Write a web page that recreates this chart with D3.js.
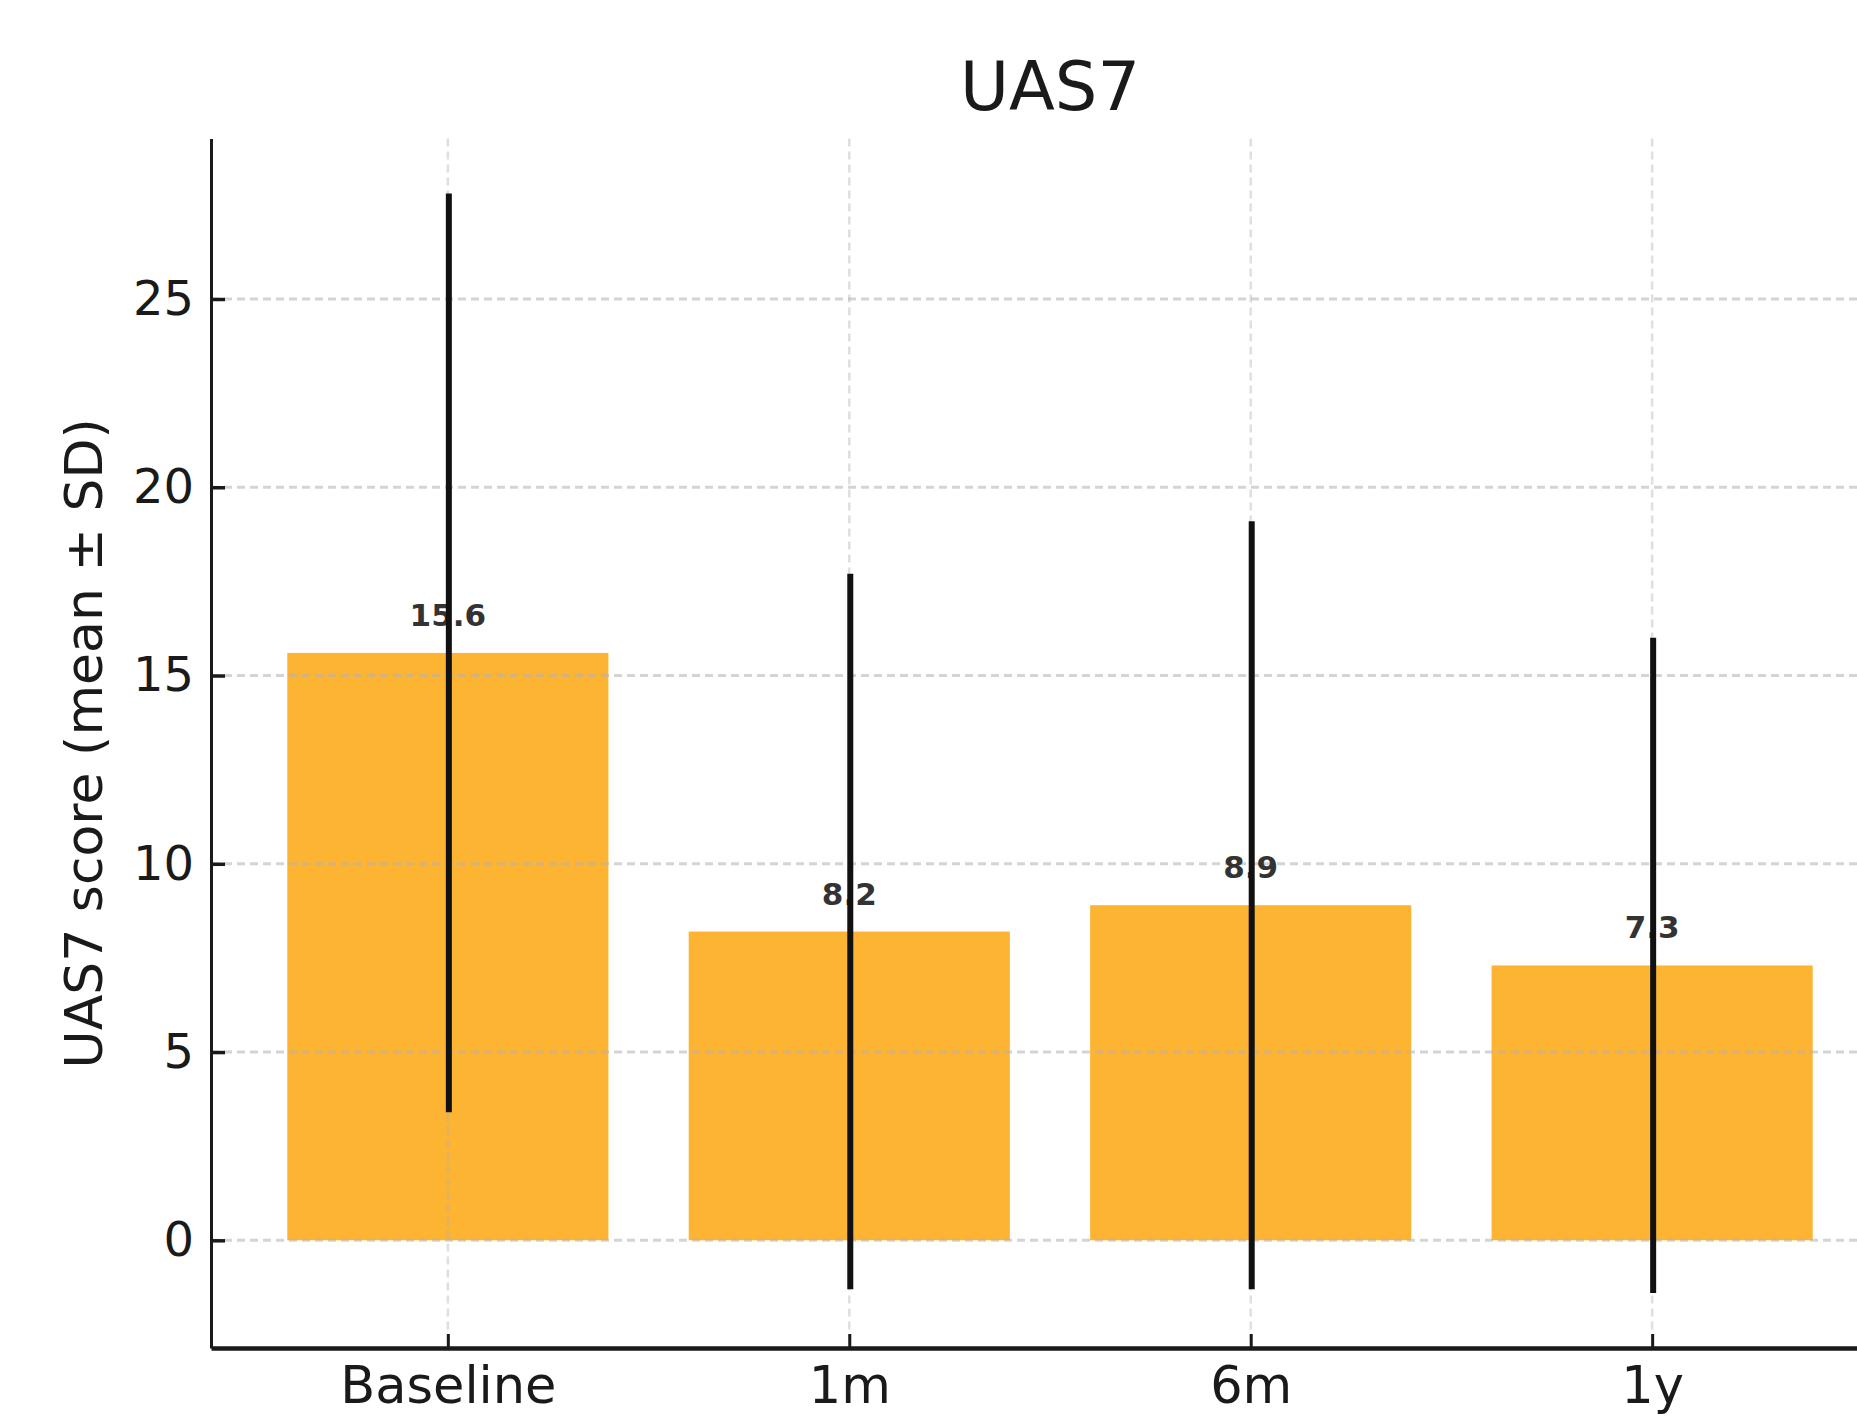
<!DOCTYPE html>
<html>
<head>
<meta charset="utf-8">
<script src="https://cdn.jsdelivr.net/npm/d3@7"></script>
<style>
  html, body { margin: 0; padding: 0; background: #fff; }
  svg { display: block; }
</style>
</head>
<body>
<svg id="chart" width="1857" height="1418"></svg>
<script>
// ---- data ----
const categories = ["Baseline", "1m", "6m", "1y"];
const means = [15.6, 8.2, 8.9, 7.3];
const sds = [12.2, 9.5, 10.2, 8.7];
const yTicks = [0, 5, 10, 15, 20, 25];
const chartTitle = "UAS7";
const yLabel = "UAS7 score (mean \u00b1 SD)";

(function () {
// ---- layout ----
const svg = d3.select("#chart");
const pLeft = 211, pRight = 1889, pTop = 138.6, pBottom = 1348;
const barWidth = 0.8;
const font = "DejaVu Sans, sans-serif";

// matplotlib-like autoscale with 5% margins
const xMin = -barWidth / 2, xMax = categories.length - 1 + barWidth / 2;
const xPad = 0.05 * (xMax - xMin);
const x = d3.scaleLinear().domain([xMin - xPad, xMax + xPad]).range([pLeft, pRight]);

const lo = d3.min(means.map((m, i) => Math.min(0, m - sds[i])));
const hi = d3.max(means.map((m, i) => m + sds[i]));
const yPad = 0.05 * (hi - lo);
const y = d3.scaleLinear().domain([lo - yPad, hi + yPad]).range([pBottom, pTop]);

// ---- bars ----
svg.append("g").selectAll("rect").data(means).join("rect")
  .attr("x", (d, i) => x(i - barWidth / 2))
  .attr("width", (d, i) => x(i + barWidth / 2) - x(i - barWidth / 2))
  .attr("y", d => y(d))
  .attr("height", d => y(0) - y(d))
  .attr("fill", "#FEB433");

// ---- grid ----
const grid = svg.append("g");
grid.selectAll("line.h").data(yTicks).join("line").attr("class", "h")
  .attr("x1", pLeft).attr("x2", pRight)
  .attr("y1", d => y(d)).attr("y2", d => y(d))
  .attr("stroke", "#b0b0b0").attr("stroke-opacity", 0.55)
  .attr("stroke-width", 3).attr("stroke-dasharray", "8,5");
grid.selectAll("line.v").data(categories).join("line").attr("class", "v")
  .attr("x1", (d, i) => x(i)).attr("x2", (d, i) => x(i))
  .attr("y1", pTop).attr("y2", pBottom)
  .attr("stroke", "#b0b0b0").attr("stroke-opacity", 0.4)
  .attr("stroke-width", 2.5).attr("stroke-dasharray", "8,5");

// ---- value labels ----
svg.append("g").selectAll("text").data(means).join("text")
  .attr("x", (d, i) => x(i))
  .attr("y", d => y(d) - 27)
  .attr("text-anchor", "middle")
  .attr("font-family", font)
  .attr("font-weight", "bold")
  .attr("font-size", 31)
  .attr("fill", "#333")
  .text(d => d.toFixed(1));

// ---- error bars ----
svg.append("g").selectAll("line").data(means).join("line")
  .attr("x1", (d, i) => x(i) + 1).attr("x2", (d, i) => x(i) + 1)
  .attr("y1", (d, i) => y(d - sds[i]))
  .attr("y2", (d, i) => y(d + sds[i]))
  .attr("stroke", "#111").attr("stroke-width", 6);

// ---- axes ----
const yAxis = d3.axisLeft(y).tickValues(yTicks).tickFormat(d3.format("d"))
  .tickSize(-14).tickSizeOuter(0).tickPadding(17);
const gy = svg.append("g").attr("transform", `translate(${pLeft},0)`).call(yAxis);
gy.select(".domain").attr("stroke", "#1a1a1a").attr("stroke-width", 3);
gy.selectAll(".tick line").attr("stroke", "#1a1a1a").attr("stroke-width", 3.5);
gy.selectAll(".tick text").attr("font-family", font).attr("font-size", 48).attr("fill", "#1a1a1a");

const xAxis = d3.axisBottom(x).tickValues(d3.range(categories.length))
  .tickFormat(i => categories[i]).tickSize(-14).tickSizeOuter(0).tickPadding(19);
const gx = svg.append("g").attr("transform", `translate(0,${pBottom})`).call(xAxis);
gx.select(".domain").attr("stroke", "#1a1a1a").attr("stroke-width", 4.5);
gx.selectAll(".tick line").attr("stroke", "#1a1a1a").attr("stroke-width", 3);
gx.selectAll(".tick text").attr("font-family", font).attr("font-size", 51).attr("fill", "#1a1a1a");

// ---- title & y label ----
svg.append("text")
  .attr("x", (pLeft + pRight) / 2).attr("y", 110)
  .attr("text-anchor", "middle")
  .attr("font-family", font).attr("font-size", 67).attr("fill", "#1a1a1a")
  .text(chartTitle);

svg.append("text")
  .attr("transform", `translate(102,${(pTop + pBottom) / 2}) rotate(-90)`)
  .attr("text-anchor", "middle")
  .attr("font-family", font).attr("font-size", 52).attr("fill", "#1a1a1a")
  .text(yLabel);
})();
</script>
</body>
</html>
